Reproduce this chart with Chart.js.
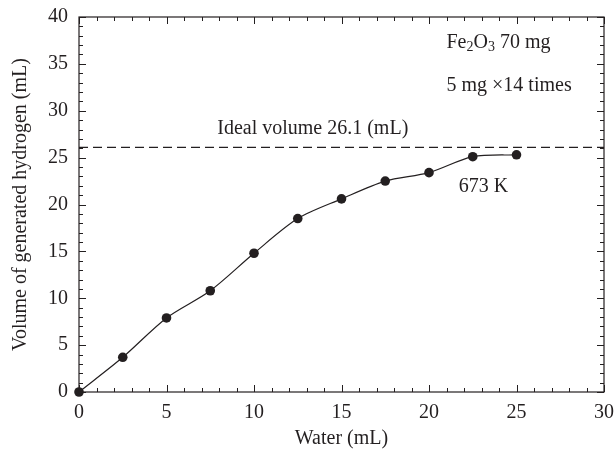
<!DOCTYPE html>
<html>
<head>
<meta charset="utf-8">
<script src="https://cdn.jsdelivr.net/npm/chart.js@4.4.0/dist/chart.umd.min.js"></script>
<style>
  html, body { margin: 0; padding: 0; background: #fff; }
  #wrap { width: 615px; height: 452px; }
</style>
</head>
<body>
<div id="wrap"><canvas id="chart" width="615" height="452"></canvas></div>
<script>
// ---- data ----
const waterMl = [0, 2.5, 5, 7.5, 10, 12.5, 15, 17.5, 20, 22.5, 25];
const hydrogenMl = [0, 3.7, 7.9, 10.8, 14.8, 18.5, 20.6, 22.5, 23.4, 25.1, 25.3];
const idealVolume = 26.1;
const xRange = [0, 30];
const yRange = [0, 40];
const xTickStep = 5;
const yTickStep = 5;

// annotation texts, anchored in data units (left edge, vertical middle)
const notes = [
  { x: 7.9, y: 28.1, text: 'Ideal volume 26.1 (mL)' },
  { x: 21.0, y: 32.7, text: '5 mg \u00d714 times' },
  { x: 21.7, y: 21.9, text: '673 K' }
];

const ink = '#231f20';
const serif = '"Liberation Serif", "DejaVu Serif", serif';
const fontSize = 20;

/* ---------- frame with inward major/minor ticks ---------- */
const framePlugin = {
  id: 'frame',
  afterDatasetsDraw(chart) {
    const { ctx, chartArea: a, scales: { x, y } } = chart;
    ctx.save();
    ctx.strokeStyle = ink;
    ctx.lineWidth = 1.2;
    ctx.strokeRect(a.left, a.top, a.right - a.left, a.bottom - a.top);

    ctx.lineWidth = 1;
    ctx.beginPath();
    for (let v = xRange[0]; v <= xRange[1]; v += 1) {
      const px = Math.round(x.getPixelForValue(v)) + 0.5;
      const len = v % xTickStep === 0 ? 7 : 4;
      ctx.moveTo(px, a.bottom); ctx.lineTo(px, a.bottom - len);
      ctx.moveTo(px, a.top); ctx.lineTo(px, a.top + len);
    }
    for (let v = yRange[0]; v <= yRange[1]; v += 1) {
      const py = Math.round(y.getPixelForValue(v)) + 0.5;
      const len = v % yTickStep === 0 ? 7 : 4;
      ctx.moveTo(a.left, py); ctx.lineTo(a.left + len, py);
      ctx.moveTo(a.right, py); ctx.lineTo(a.right - len, py);
    }
    ctx.stroke();
    ctx.restore();
  }
};

/* ---------- text annotations ---------- */
const notesPlugin = {
  id: 'notes',
  afterDraw(chart) {
    const { ctx, scales: { x, y } } = chart;
    ctx.save();
    ctx.fillStyle = ink;
    ctx.textBaseline = 'middle';
    ctx.textAlign = 'left';
    ctx.font = fontSize + 'px ' + serif;
    notes.forEach(n => {
      ctx.fillText(n.text, x.getPixelForValue(n.x), y.getPixelForValue(n.y));
    });

    // Fe2O3 70 mg, with subscripts
    let px = x.getPixelForValue(21.0);
    const py = y.getPixelForValue(37.3);
    const parts = [['Fe', 0], ['2', 1], ['O', 0], ['3', 1], ' 70 mg'];
    parts.forEach(p => {
      const [t, sub] = Array.isArray(p) ? p : [p, 0];
      ctx.font = (sub ? '14px ' : fontSize + 'px ') + serif;
      ctx.fillText(t, px, py + (sub ? 5 : 0));
      px += ctx.measureText(t).width;
    });
    ctx.restore();
  }
};

const noOverflow = s => {
  s.paddingLeft = 0; s.paddingRight = 0;
  s.paddingTop = 0; s.paddingBottom = 0;
};

new Chart(document.getElementById('chart'), {
  type: 'scatter',
  data: {
    datasets: [
      {
        data: waterMl.map((w, i) => ({ x: w, y: hydrogenMl[i] })),
        showLine: true,
        clip: false,
        borderColor: ink,
        borderWidth: 1.2,
        backgroundColor: ink,
        pointRadius: 4.8,
        pointBorderWidth: 0,
        tension: 0.3
      },
      {
        data: xRange.map(v => ({ x: v, y: idealVolume })),
        showLine: true,
        borderColor: ink,
        borderWidth: 1.2,
        borderDash: [9, 5],
        pointRadius: 0
      }
    ]
  },
  options: {
    responsive: false,
    animation: false,
    events: [],
    layout: { padding: { top: 17, right: 11, left: 0, bottom: 0 } },
    plugins: { legend: { display: false }, tooltip: { enabled: false } },
    scales: {
      x: {
        type: 'linear',
        min: xRange[0], max: xRange[1],
        grid: { display: false, drawTicks: false },
        border: { display: false },
        ticks: { stepSize: xTickStep, padding: 9, color: ink, font: { family: serif, size: fontSize } },
        title: { display: true, text: 'Water (mL)', color: ink, font: { family: serif, size: fontSize }, padding: { top: 0, bottom: 1 } },
        afterFit: s => { s.height = 60; noOverflow(s); }
      },
      y: {
        type: 'linear',
        min: yRange[0], max: yRange[1],
        grid: { display: false, drawTicks: false },
        border: { display: false },
        ticks: { stepSize: yTickStep, padding: 11, color: ink, font: { family: serif, size: fontSize } },
        title: { display: true, text: 'Volume of generated hydrogen (mL)', color: ink, font: { family: serif, size: fontSize }, padding: { top: 9, bottom: 0 } },
        afterFit: s => { s.width = 79; noOverflow(s); }
      }
    }
  },
  plugins: [framePlugin, notesPlugin]
});
</script>
</body>
</html>
